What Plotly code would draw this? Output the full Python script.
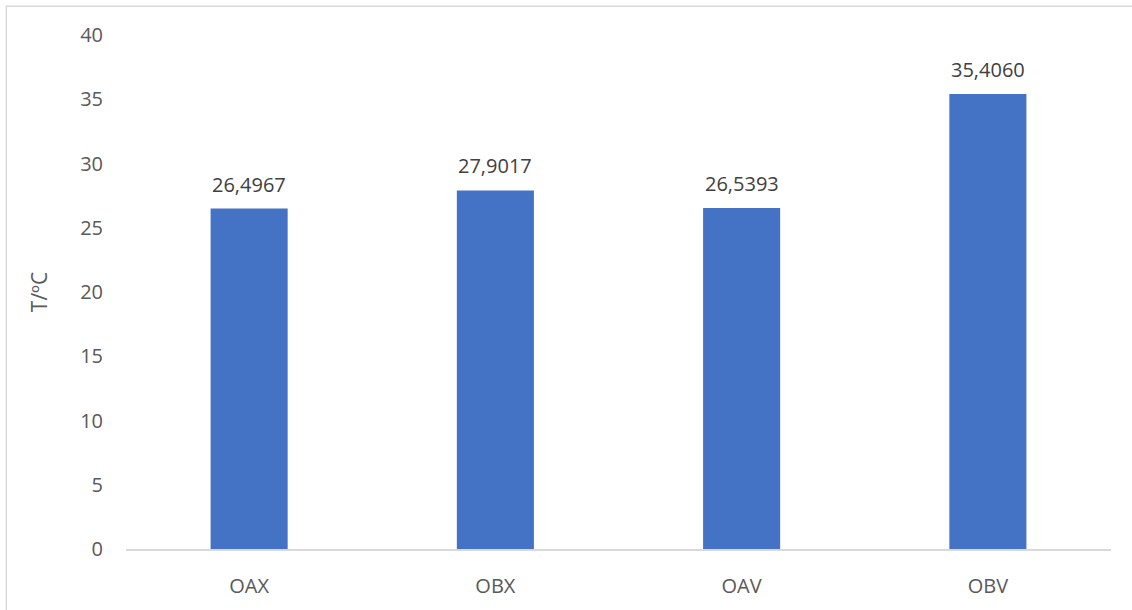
import plotly.graph_objects as go

# Sample temperatures per configuration
categories = ["OAX", "OBX", "OAV", "OBV"]
temperatures = [26.4967, 27.9017, 26.5393, 35.4060]
y_ticks = [0, 5, 10, 15, 20, 25, 30, 35, 40]

TEXT_GREY = "#595959"
FONT = "Open Sans"
SIZE = 20

fig = go.Figure()
fig.add_trace(go.Bar(
    x=categories,
    y=temperatures,
    marker=dict(color="#4472C4", line=dict(width=0)),
    hoverinfo="skip",
))

# Value labels above each bar
for cat, val in zip(categories, temperatures):
    fig.add_annotation(
        x=cat, y=val, xref="x", yref="y",
        text=f"{val:.4f}".replace(".", ","),
        showarrow=False, yanchor="bottom", yshift=9,
        font=dict(family=FONT, size=SIZE, color="#404040"),
    )

# Outer frame of the chart area
fig.add_shape(
    type="rect", xref="paper", yref="paper",
    x0=-0.1215, x1=1.03, y0=-0.2, y1=1.056,
    line=dict(color="#D9D9D9", width=1.5), fillcolor="rgba(0,0,0,0)",
)

fig.update_layout(
    width=1132, height=610,
    margin=dict(l=126, r=21, t=35, b=61),
    paper_bgcolor="white", plot_bgcolor="white",
    bargap=0.687,
    showlegend=False,
    font=dict(family=FONT, size=SIZE, color=TEXT_GREY),
)
fig.update_xaxes(
    showline=True, linecolor="#D9D9D9", linewidth=1.5,
    showgrid=False, ticks="", ticklabelstandoff=18,
    tickfont=dict(family=FONT, size=SIZE, color=TEXT_GREY),
)
fig.update_yaxes(
    range=[0, 40], tickvals=y_ticks,
    showline=False, showgrid=False, zeroline=False,
    ticks="", ticklabelstandoff=22,
    tickfont=dict(family=FONT, size=SIZE, color=TEXT_GREY),
    title=dict(text="T/ºC", standoff=26,
               font=dict(family=FONT, size=21, color=TEXT_GREY)),
)

fig.write_html("out.html")
